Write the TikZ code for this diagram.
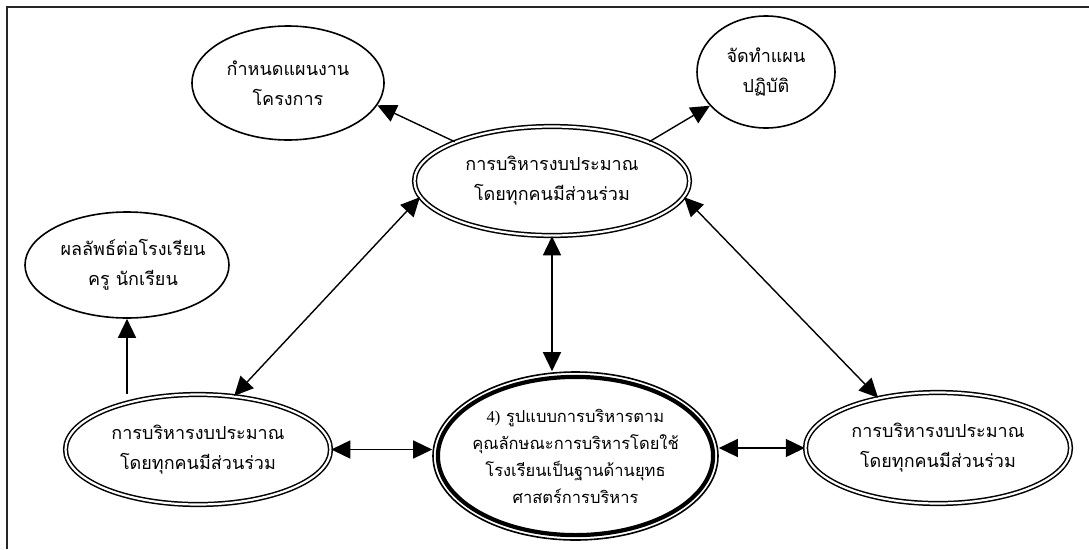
\documentclass[tikz,border=0pt]{standalone}
\usepackage{fontspec}
\usetikzlibrary{shapes.geometric,arrows.meta}
\newfontfamily\thaifont[Script=Thai]{Loma}
\newfontfamily\latinserif{Liberation Serif}

\tikzset{
  % negative inner sep lets the minimum size alone fix each ellipse
  oval/.style={ellipse, draw, line width=1.6pt, inner sep=-60pt, align=center,
    font=\thaifont\fontsize{18}{30}\selectfont},
  dbloval/.style={oval, double, line width=1.5pt, double distance=2.2pt},
  link/.style={line width=1.4pt, -{Triangle[length=19pt,width=18pt]}},
  twoway/.style={line width=1.4pt, {Triangle[length=19pt,width=18pt]}-{Triangle[length=19pt,width=18pt]}},
  frame/.style={line width=2pt, draw=black!85}
}

\begin{document}
\begin{tikzpicture}[x=1pt, y=-1pt]
  \useasboundingbox (0,0) rectangle (1089,549);
  % open frame: top and left rules
  \draw[frame] (7,549) -- (7,7) -- (1089,7);

  % outer ring of ideas
  \node[oval, minimum width=192pt, minimum height=114pt] (plan) at (288,83)
    {กำหนดแผนงาน\\โครงการ};
  \node[oval, minimum width=138pt, minimum height=112pt] (action) at (766,72)
    {จัดทำแผน\\ปฏิบัติ};
  \node[dbloval, minimum width=275pt, minimum height=109pt] (budget) at (552,181)
    {การบริหารงบประมาณ\\โดยทุกคนมีส่วนร่วม};
  \node[oval, minimum width=204pt, minimum height=106pt] (result) at (127,265)
    {\hspace*{12pt}ผลลัพธ์ต่อโรงเรียน\\\hspace*{12pt}ครู นักเรียน};
  \node[dbloval, minimum width=265pt, minimum height=110pt] (left) at (198,449.5)
    {การบริหารงบประมาณ\\โดยทุกคนมีส่วนร่วม};
  \node[dbloval, minimum width=265pt, minimum height=111pt] (right) at (938,448)
    {การบริหารงบประมาณ\\โดยทุกคนมีส่วนร่วม};

  % central model: thin outer ring with a heavy inner ring
  \node[oval, minimum width=285pt, minimum height=168pt,
        font=\thaifont\fontsize{16.5}{27}\selectfont] (core) at (575.5,456)
    {{\latinserif 4)} รูปแบบการบริหารตาม\\คุณลักษณะการบริหารโดยใช้\\โรงเรียนเป็นฐานด้านยุทธ\\ศาสตร์การบริหาร};
  \draw[line width=4.2pt] (core.center) ellipse (137.6pt and 79.1pt);

  % connectors
  \draw[link] (budget.158.7) -- (plan.-14.2);
  \draw[link] (budget.22.2) -- (action.211.3);
  \draw[twoway] (budget.187.8) -- (left.56.8);
  \draw[twoway] (budget.-7.2) -- (right.140.2);
  \draw[twoway] (budget.south) -- (budget.south |- core.north);
  \draw[twoway] (left.east) -- (left.east -| core.west);
  \draw[twoway] (right.west -| core.east) -- (right.west);
  \draw[link] (result.south |- left.north) -- (result.south);
\end{tikzpicture}
\end{document}
